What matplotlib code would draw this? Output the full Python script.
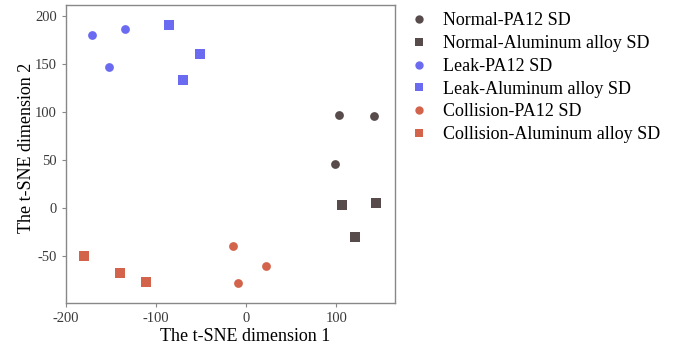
import matplotlib
matplotlib.use('Agg')
import matplotlib.pyplot as plt
from matplotlib.lines import Line2D

plt.rcParams['font.family'] = ['Liberation Serif', 'DejaVu Serif']
plt.rcParams['axes.unicode_minus'] = False

# t-SNE embedding
normal_pa12_x = [102.6, 141.3, 98.5]
normal_pa12_y = [97.2, 95.8, 46.5]
normal_al_x = [105.9, 143.9, 120.3]
normal_al_y = [3.8, 5.2, -30.2]
leak_pa12_x = [-171.6, -134.3, -152.8]
leak_pa12_y = [180.6, 186.8, 147.2]
leak_al_x = [-86.0, -51.7, -69.7]
leak_al_y = [191.3, 160.4, 133.7]
coll_pa12_x = [-15.1, 22.1, -9.6]
coll_pa12_y = [-39.2, -60.1, -78.1]
coll_al_x = [-179.7, -140.6, -111.4]
coll_al_y = [-50.0, -67.0, -76.7]

C_NORMAL = '#584b4b'
C_LEAK = '#6b6bf2'
C_COLL = '#d3644b'

series = [
    ('Normal-PA12 SD', normal_pa12_x, normal_pa12_y, C_NORMAL, 'o'),
    ('Normal-Aluminum alloy SD', normal_al_x, normal_al_y, C_NORMAL, 's'),
    ('Leak-PA12 SD', leak_pa12_x, leak_pa12_y, C_LEAK, 'o'),
    ('Leak-Aluminum alloy SD', leak_al_x, leak_al_y, C_LEAK, 's'),
    ('Collision-PA12 SD', coll_pa12_x, coll_pa12_y, C_COLL, 'o'),
    ('Collision-Aluminum alloy SD', coll_al_x, coll_al_y, C_COLL, 's'),
]

fig = plt.figure(figsize=(6.74, 3.47), dpi=100)
ax = fig.add_axes([0.098, 0.127, 0.488, 0.859])

for label, xs, ys, color, marker in series:
    ax.scatter(xs, ys, s=40 if marker == 'o' else 42, c=color, marker=marker,
               linewidths=0, label=label)

ax.set_xlim(-200, 165)
ax.set_ylim(-98.6, 212)
ax.set_xticks([-200, -100, 0, 100])
ax.set_yticks([-50, 0, 50, 100, 150, 200])
for sp in ax.spines.values():
    sp.set_color('#888888')
    sp.set_linewidth(1.0)
ax.tick_params(colors='#888888', labelcolor='#3a3a3a', labelsize=10.5,
               length=3, width=0.8)
ax.set_xlabel('The t-SNE dimension 1', fontsize=13, labelpad=2)
ax.xaxis.label.set_x(0.545)
ax.set_ylabel('The t-SNE dimension 2', fontsize=13, labelpad=0)
ax.yaxis.label.set_y(0.52)

handles = [
    Line2D([0], [0], marker=m, color='w', markerfacecolor=c, markeredgewidth=0,
           markersize=6 if m == 'o' else 5.5, label=l)
    for l, _, _, c, m in series
]
fig.legend(handles=handles, loc='upper left', bbox_to_anchor=(0.603, 0.975),
           frameon=False, fontsize=13, handlelength=1.0, handletextpad=0.85,
           labelspacing=0.32, borderaxespad=0.0, borderpad=0.2)

fig.savefig('out.png', dpi=100)
